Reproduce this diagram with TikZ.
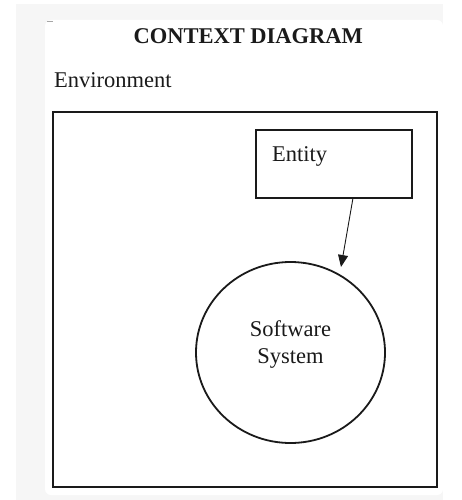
\documentclass[tikz,border=0pt]{standalone}
\usepackage{fontspec}
\setmainfont{Liberation Serif}
\usetikzlibrary{arrows.meta,shapes.geometric}
\definecolor{pagegray}{HTML}{F6F6F6}
\definecolor{ink}{HTML}{1A1A1A}
\tikzset{
  txt/.style={font=\fontsize{22.5}{27}\selectfont, inner sep=0pt, text=ink},
  boxline/.style={draw=ink, line width=2pt},
  flow/.style={draw=ink, line width=0.9pt, -{Triangle[length=12pt,width=10pt]}}
}
\begin{document}
\begin{tikzpicture}[x=1pt,y=-1pt]
  \useasboundingbox (0,0) rectangle (461,500);
  % page backdrop and card
  \fill[pagegray] (16,4) rectangle (443,500);
  \fill[white, rounded corners=6pt] (45,20) rectangle (443,495);
  \draw[gray!70, line width=0.8pt] (47,21) -- (53,21);

  % headings
  \node[txt, font=\fontsize{22.5}{27}\selectfont\bfseries, anchor=base] (title) at (248.3,43.3) {CONTEXT DIAGRAM};
  \node[txt, anchor=base west] (envlabel) at (54,87.3) {Environment};

  % environment boundary
  \node[boxline, rectangle, inner sep=0pt, minimum width=384pt, minimum height=375pt] (env) at (245,299.5) {};

  % entity box
  \node[boxline, rectangle, inner sep=0pt, minimum width=156pt, minimum height=68pt] (entity) at (334,164) {};
  \node[txt, anchor=base west] (entitylabel) at (272,161) {Entity};

  % software system
  \node[draw=ink, line width=1.8pt, ellipse, inner sep=0pt, minimum width=189pt, minimum height=181pt] (sys) at (290.5,352.5) {};
  \node[txt, align=center] (syslabel) at (290.5,344.3) {Software\\System};

  % data flow from entity to system
  \coordinate (src) at (353,198);
  \coordinate (dst) at (341,267);
  \draw[flow] (src) -- (dst);
\end{tikzpicture}
\end{document}
